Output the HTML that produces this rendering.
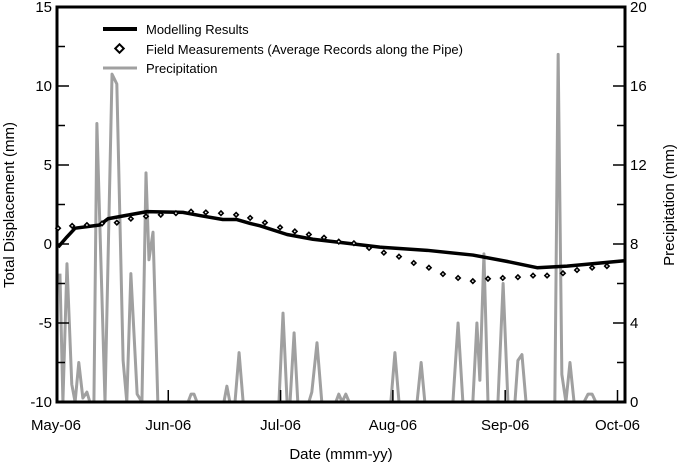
<!DOCTYPE html>
<html><head><meta charset="utf-8"><style>
body{margin:0;background:#fff}
svg{display:block;font-family:"Liberation Sans",Arial,sans-serif}
</style></head><body>
<svg id="chart" width="685" height="464" viewBox="0 0 685 464" xmlns="http://www.w3.org/2000/svg">
<g id="precip"></g>
<g id="axes"></g>
<g id="model"></g>
<g id="field"></g>
<g font-size="13">
  <line x1="103" y1="29" x2="137" y2="29" stroke="#000" stroke-width="4"/>
  <text x="146" y="34">Modelling Results</text>
  <rect x="116.5" y="45.5" width="6" height="6" transform="rotate(45 119.5 48.5)" fill="#fff" stroke="#000" stroke-width="2"/>
  <text x="146" y="54">Field Measurements (Average Records along the Pipe)</text>
  <line x1="103" y1="68" x2="137" y2="68" stroke="#a0a0a0" stroke-width="3"/>
  <text x="146" y="73">Precipitation</text>
</g>
<text transform="translate(14,205) rotate(-90)" text-anchor="middle" font-size="15">Total Displacement (mm)</text>
<text transform="translate(674,205) rotate(-90)" text-anchor="middle" font-size="15">Precipitation (mm)</text>
<text x="341" y="459" text-anchor="middle" font-size="15">Date (mmm-yy)</text>
</svg>
<script>
const monthLabels=["May-06","Jun-06","Jul-06","Aug-06","Sep-06","Oct-06"];
const leftTicks=[-10,-5,0,5,10,15];
const rightTicks=[0,4,8,12,16,20];
const precipDays=[0,0.8,1.9,3.2,4.1,5.1,6.2,7.3,8.1,9.2,10.0,12.2,14.1,15.4,17.1,18.1,19.2,20.9,22.2,23.3,24.1,25.2,26.5,34.7,35.5,36.3,37.1,44.4,45.2,46,47.4,48.5,49.6,59.3,60.4,61.5,62.3,63.4,64.4,67.4,68.2,69.6,70.9,74.7,75.5,76.4,77.4,78.3,89.6,90.7,91.8,96.7,97.8,98.8,106.4,107.8,109.1,111.8,112.9,113.7,114.8,115.9,118.6,120,121.3,123.2,124,125.1,126.2,134,134.9,135.9,137,138.1,139.2,141.9,143,144.1,145.1,153];
const precipVals=[6.5,0,7.0,0.9,0,2.0,0.2,0.5,0,0,14.1,0,16.6,16.1,2.1,0,6.5,0.4,0,11.6,7.2,8.6,0,0,0.4,0.4,0,0,0.8,0,0,2.5,0,0,4.5,0,0,3.5,0,0,0.5,3.0,0,0,0.4,0,0.4,0,0,2.5,0,0,2.0,0,0,4.0,0,0,4.0,1.1,7.5,0,0,6.0,0,0,2.1,2.4,0,0,17.6,1.4,0,2.0,0,0,0.4,0.4,0,0];
const modelDays=[-0.5,1.9,4.1,10.8,13,18.9,23.6,33.3,37.9,44.1,47.9,51.5,54.2,61.5,68.5,75.8,86.6,99.4,111.8,121,129.2,137.3,153.2];
const modelVals=[-0.2,0.45,1.0,1.2,1.6,1.85,2.05,2.0,1.8,1.55,1.55,1.3,1.15,0.6,0.3,0.1,-0.2,-0.4,-0.7,-1.1,-1.5,-1.4,-1.05];
const fieldDays=[-0.5,3.3,7.3,11.4,15.4,19.2,23.3,27.3,31.4,35.5,39.5,43.6,47.7,51.5,55.5,59.6,63.6,67.4,71.5,75.5,79.6,83.7,87.7,91.8,95.8,99.9,103.7,107.8,111.8,115.9,119.9,124,128.1,131.9,136.2,140,144.1,148.1];
const fieldVals=[1.0,1.15,1.2,1.3,1.35,1.6,1.75,1.85,1.95,2.05,2.0,1.95,1.85,1.65,1.35,1.05,0.8,0.6,0.4,0.15,0.05,-0.25,-0.55,-0.8,-1.2,-1.5,-1.9,-2.15,-2.35,-2.2,-2.15,-2.1,-2.0,-2.0,-1.85,-1.65,-1.5,-1.4];

const NS="http://www.w3.org/2000/svg";
const L=57,R=625,T=7,B=402;
const D0=-0.8,D1=153.0;
const x=d=>L+(d-D0)/(D1-D0)*(R-L);
const yL=v=>B-(v+10)/25*(B-T);
const yR=v=>B-v/20*(B-T);
function mk(tag,attrs,parent){const e=document.createElementNS(NS,tag);for(const k in attrs)e.setAttribute(k,attrs[k]);parent.appendChild(e);return e;}

const axes=document.getElementById('axes');
let fr=mk('path',{d:`M${L},${T}H${R}V${B}H${L}Z`,fill:'none',stroke:'#000','stroke-width':3},axes);


for(let v=-10;v<=15;v+=2.5){const t=mk('line',{x1:L,x2:L+(v%5===0?12:8),y1:yL(v),y2:yL(v),stroke:'#000','stroke-width':1.5},axes);

}
leftTicks.forEach(v=>{const t=mk('text',{x:L-5,y:yL(v)+5,'text-anchor':'end','font-size':15},axes);t.textContent=v;

});
for(let v=0;v<=20;v+=2){const t=mk('line',{x1:R,x2:R-(v%4===0?12:8),y1:yR(v),y2:yR(v),stroke:'#000','stroke-width':1.5},axes);

}
rightTicks.forEach(v=>{const t=mk('text',{x:R+5,y:yR(v)+5,'font-size':15},axes);t.textContent=v;

});
monthLabels.forEach((m,i)=>{const d=-1.08+30.41*i;const xx=x(d);
if(i>0){const t=mk('line',{x1:xx,x2:xx,y1:B,y2:B-12,stroke:'#000','stroke-width':1.5},axes);

}
const t=mk('text',{x:xx,y:B+28,'text-anchor':'middle','font-size':15},axes);t.textContent=m;

});

const pg=document.getElementById('precip');
const pl=mk('polyline',{points:precipDays.map((d,i)=>x(d)+','+yR(precipVals[i])).join(' '),fill:'none',stroke:'#a0a0a0','stroke-width':3,'stroke-linejoin':'round'},pg);


const mg=document.getElementById('model');
const ml=mk('polyline',{points:modelDays.map((d,i)=>x(d)+','+yL(modelVals[i])).join(' '),fill:'none',stroke:'#000','stroke-width':3.5,'stroke-linejoin':'round'},mg);


const fg=document.getElementById('field');
fieldDays.forEach((d,i)=>{const cx=x(d),cy=yL(fieldVals[i]);
const p=mk('path',{d:`M${cx},${cy-2.2}L${cx+2.2},${cy}L${cx},${cy+2.2}L${cx-2.2},${cy}Z`,fill:'#fff',stroke:'#000','stroke-width':1.6},fg);

});
</script>
</body></html>
